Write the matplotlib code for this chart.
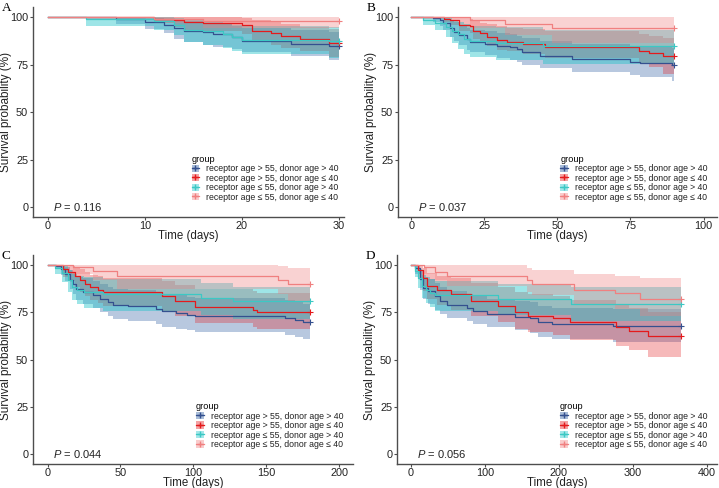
import matplotlib
matplotlib.use("Agg")
import matplotlib.pyplot as plt
from matplotlib.patches import Patch
from matplotlib.lines import Line2D

plt.rcParams["font.family"] = ["Liberation Sans", "DejaVu Sans"]
plt.rcParams["mathtext.fontset"] = "custom"
plt.rcParams["mathtext.it"] = "Liberation Sans:italic"
plt.rcParams["mathtext.rm"] = "Liberation Sans"

groups = ["receptor age > 55, donor age > 40",
          "receptor age > 55, donor age \u2264 40",
          "receptor age \u2264 55, donor age > 40",
          "receptor age \u2264 55, donor age \u2264 40"]
line_colors = ["#34508F", "#E41A1C", "#3CC8C4", "#F08080"]
fill_colors = ["#2A5A9E", "#E41A1C", "#19C3C8", "#F08080"]
fill_alpha = [0.33, 0.3, 0.42, 0.35]

# ---- panel A (30 days) ----
a_blue_t = [0, 7, 10, 12, 13, 14, 16, 17, 19, 20, 25, 29]
a_blue_s = [100, 99.3, 97.4, 95.8, 94.3, 93.0, 92.2, 91.2, 89.6, 87.4, 86.0, 84.6]
a_blue_lo = [100, 96.5, 93.7, 91.6, 88.8, 86.8, 85.5, 84.5, 83.5, 81.5, 79.6, 77.5]
a_blue_hi = [100, 100, 99.8, 99.2, 98.5, 97.8, 97.2, 96.5, 95.5, 94.3, 93.5, 92.3]
a_red_t = [0, 11, 13, 14, 16, 20, 21, 23, 24, 26, 29]
a_red_s = [100, 99.3, 98.5, 97.3, 96.8, 95.8, 93.0, 91.6, 90.2, 88.4, 86.6]
a_red_lo = [100, 97.0, 95.0, 93.5, 92.5, 91.0, 87.5, 85.5, 84.0, 82.0, 79.3]
a_red_hi = [100, 100, 100, 100, 100, 99.8, 98.5, 97.5, 96.5, 95.0, 93.8]
a_cyan_t = [0, 4, 11, 13, 14, 16, 18, 19, 20, 29]
a_cyan_s = [100, 99.0, 97.8, 96.0, 93.5, 92.5, 91.2, 89.5, 88.2, 87.6]
a_cyan_lo = [100, 95.5, 93.5, 90.5, 86.8, 85.5, 84.0, 82.0, 80.5, 78.5]
a_cyan_hi = [100, 100, 100, 99.5, 98.5, 98.0, 97.0, 96.0, 95.5, 95.0]
a_pink_t = [0, 11, 16]
a_pink_s = [100, 99.1, 98.2]
a_pink_lo = [100, 96.8, 94.5]
a_pink_hi = [100, 100, 100]

# ---- panel B (90 days) ----
b_blue_t = [0, 7.6, 10, 11, 13.3, 14.5, 16.2, 19, 20.2, 25.3, 29.3, 33.9, 36.2, 37.9, 44.1, 54.9, 74.9, 78.3, 89.2]
b_blue_s = [100, 99.4, 98.6, 97.2, 94.2, 92.4, 90.7, 88.4, 87.2, 86.0, 84.9, 84.2, 83.2, 81.9, 79.6, 77.9, 76.6, 75.8, 74.9]
b_blue_lo = [100, 97.5, 95.5, 93.5, 89.8, 87.5, 85.5, 83.0, 81.5, 80.0, 78.5, 77.5, 76.5, 75.0, 73.5, 71.0, 69.5, 68.3, 66.2]
b_blue_hi = [100, 100, 100, 99.8, 98.5, 97.3, 96.0, 94.5, 93.5, 92.5, 91.5, 91.0, 90.3, 89.3, 87.5, 86.0, 85.0, 84.3, 83.6]
b_red_t = [0, 11.1, 13.3, 16.2, 20.2, 21.3, 23.6, 25.9, 29.3, 32.7, 38.4, 45.8, 77.8, 81.2, 86.3]
b_red_s = [100, 99.3, 98.6, 96.0, 95.4, 93.0, 91.6, 89.8, 88.1, 87.2, 86.0, 84.2, 82.4, 81.0, 79.6]
b_red_lo = [100, 97.5, 95.8, 92.5, 91.5, 88.5, 86.8, 84.8, 83.0, 82.0, 80.5, 78.5, 76.0, 74.0, 70.0]
b_red_hi = [100, 100, 100, 99.5, 99.2, 98.0, 97.2, 96.2, 95.2, 94.5, 93.8, 92.5, 91.3, 90.2, 89.0]
b_cyan_t = [0, 4.2, 8, 12, 14, 16, 18, 20, 29, 45]
b_cyan_s = [100, 98.6, 97.2, 95.0, 93.0, 91.0, 88.5, 87.3, 86.5, 84.6]
b_cyan_lo = [100, 96.0, 93.5, 89.5, 86.5, 83.5, 80.5, 79.0, 77.5, 75.5]
b_cyan_hi = [100, 100, 100, 99.5, 98.5, 97.5, 96.2, 95.5, 95.0, 93.5]
b_pink_t = [0, 20, 32, 48]
b_pink_s = [100, 98.3, 96.4, 94.2]
b_pink_lo = [100, 94.5, 90.5, 86.5]
b_pink_hi = [100, 100, 100, 100]

# ---- panel C (180 days) ----
c_blue_t = [0, 6.1, 9.5, 11.8, 15.2, 17.6, 19.8, 24.4, 31.3, 35.8, 41.5, 45.0, 55.2, 74.7, 78.2, 88.4, 95.3, 101.1, 162.8, 169.6, 175.4]
c_blue_s = [100, 99.7, 97.9, 95.3, 92.3, 90.1, 87.5, 86.0, 84.3, 82.2, 80.5, 79.1, 78.4, 77.0, 75.6, 74.9, 73.8, 73.1, 72.1, 70.9, 70.0]
c_blue_lo = [100, 98.5, 95.0, 91.5, 87.5, 84.5, 81.5, 79.5, 77.5, 75.0, 73.0, 71.5, 70.5, 69.0, 67.5, 66.5, 65.5, 64.5, 63.0, 62.0, 61.0]
c_blue_hi = [100, 100, 100, 99.3, 97.5, 96.0, 94.0, 93.0, 91.5, 90.0, 88.5, 87.5, 87.0, 86.0, 84.5, 84.0, 83.0, 82.5, 81.5, 80.5, 79.5]
c_red_t = [0, 10.7, 14.1, 18.7, 22.1, 25.6, 29.0, 34.7, 38.2, 78.2, 87.3, 101.1, 141.1, 143.4]
c_red_s = [100, 97.9, 96.5, 94.4, 92.3, 90.1, 88.3, 87.1, 85.7, 83.6, 80.8, 77.8, 76.1, 75.2]
c_red_lo = [100, 93.5, 91.5, 88.5, 86.0, 83.5, 81.5, 80.0, 78.5, 76.0, 73.0, 69.5, 67.5, 66.0]
c_red_hi = [100, 100, 99.8, 99.0, 97.8, 96.5, 95.0, 94.2, 93.0, 91.5, 89.5, 87.5, 86.3, 85.5]
c_cyan_t = [0, 5, 10, 14, 17, 20, 25, 38, 105, 127]
c_cyan_s = [100, 98.5, 96.0, 92.0, 88.5, 87.0, 85.8, 84.6, 82.9, 81.2]
c_cyan_lo = [100, 95.5, 91.0, 86.0, 81.5, 79.5, 77.5, 76.0, 73.5, 71.5]
c_cyan_hi = [100, 100, 99.5, 97.5, 95.5, 94.5, 93.5, 92.5, 90.5, 88.5]
c_pink_t = [0, 17.6, 31.3, 47.3, 158, 164.8]
c_pink_s = [100, 98.8, 97.1, 94.1, 92.3, 90.1]
c_pink_lo = [100, 95.5, 92.0, 87.5, 84.5, 81.0]
c_pink_hi = [100, 100, 100, 100, 99.5, 98.5]

# ---- panel D (365 days) ----
d_blue_t = [0, 5.4, 12.2, 16.7, 23.4, 32.5, 39.2, 48.3, 75.3, 84.3, 102.4, 140.7, 161, 172.3, 190.3, 273.8]
d_blue_s = [100, 98.6, 92.5, 88.1, 86.4, 83.8, 81.2, 79.1, 77.3, 75.9, 74.2, 72.8, 71.9, 69.8, 69.0, 68.0]
d_blue_lo = [100, 95.5, 87.0, 82.0, 79.5, 76.5, 74.0, 72.0, 70.5, 69.0, 67.5, 65.5, 64.0, 62.0, 61.0, 59.5]
d_blue_hi = [100, 100, 97.5, 94.0, 92.5, 90.5, 88.5, 86.5, 85.0, 84.0, 82.0, 81.0, 80.5, 78.5, 77.5, 77.0]
d_red_t = [0, 10, 16, 21.4, 35.1, 53.4, 80.8, 117.4, 140, 158.4, 192.7, 215.5, 277, 295.4, 320.5]
d_red_s = [100, 97.5, 93.0, 89.0, 86.7, 84.6, 81.2, 78.5, 75.0, 73.3, 72.1, 69.8, 67.2, 65.4, 62.3]
d_red_lo = [100, 93.0, 86.5, 82.0, 79.0, 76.5, 73.0, 70.0, 66.5, 64.5, 63.0, 60.5, 57.5, 55.0, 51.5]
d_red_hi = [100, 100, 98.5, 96.0, 94.5, 93.0, 90.5, 88.5, 86.0, 84.5, 83.5, 81.5, 79.5, 77.5, 75.0]
d_cyan_t = [0, 5, 10, 15, 20, 25, 33, 118, 217]
d_cyan_s = [100, 97.0, 93.0, 89.0, 87.0, 85.5, 84.2, 82.0, 79.4]
d_cyan_lo = [100, 93.5, 88.0, 82.5, 80.0, 78.0, 76.0, 73.5, 70.5]
d_cyan_hi = [100, 100, 98.0, 95.0, 93.5, 92.5, 91.5, 90.0, 88.5]
d_pink_t = [0, 17, 32, 48, 157, 164, 220, 276, 310]
d_pink_s = [100, 98.8, 96.5, 94.3, 92.3, 90.3, 86.7, 85.5, 82.1]
d_pink_lo = [100, 95.5, 92.0, 89.0, 86.0, 84.0, 79.5, 77.0, 73.0]
d_pink_hi = [100, 100, 100, 100, 98.5, 97.5, 95.5, 94.5, 93.0]

panels = [
    ("A", 30, [0, 10, 20, 30], (-1.5, 30.5), "0.116",
     [(a_blue_t, a_blue_s, a_blue_lo, a_blue_hi), (a_red_t, a_red_s, a_red_lo, a_red_hi),
      (a_cyan_t, a_cyan_s, a_cyan_lo, a_cyan_hi), (a_pink_t, a_pink_s, a_pink_lo, a_pink_hi)]),
    ("B", 90, [0, 25, 50, 75, 100], (-4.5, 104.6), "0.037",
     [(b_blue_t, b_blue_s, b_blue_lo, b_blue_hi), (b_red_t, b_red_s, b_red_lo, b_red_hi),
      (b_cyan_t, b_cyan_s, b_cyan_lo, b_cyan_hi), (b_pink_t, b_pink_s, b_pink_lo, b_pink_hi)]),
    ("C", 180, [0, 50, 100, 150, 200], (-10, 209.5), "0.044",
     [(c_blue_t, c_blue_s, c_blue_lo, c_blue_hi), (c_red_t, c_red_s, c_red_lo, c_red_hi),
      (c_cyan_t, c_cyan_s, c_cyan_lo, c_cyan_hi), (c_pink_t, c_pink_s, c_pink_lo, c_pink_hi)]),
    ("D", 365, [0, 100, 200, 300, 400], (-19, 414), "0.056",
     [(d_blue_t, d_blue_s, d_blue_lo, d_blue_hi), (d_red_t, d_red_s, d_red_lo, d_red_hi),
      (d_cyan_t, d_cyan_s, d_cyan_lo, d_cyan_hi), (d_pink_t, d_pink_s, d_pink_lo, d_pink_hi)]),
]

W, H = 719, 488
rects = [(33, 7, 311, 210), (398, 7, 319, 210), (33, 255, 320, 209), (397, 255, 320, 209)]
axis_col = "#4d4d4d"
text_col = "#222222"

fig = plt.figure(figsize=(W / 100, H / 100), dpi=100)

for (letter, tend, xticks, xlim, pval, curves), (px, py, pw, ph) in zip(panels, rects):
    ax = fig.add_axes([px / W, 1 - (py + ph) / H, pw / W, ph / H])
    for (t, s, lo, hi), c, a in zip(curves, fill_colors, fill_alpha):
        tt = t + [tend]
        ax.fill_between(tt, lo + [lo[-1]], hi + [hi[-1]], step="post",
                        color=c, alpha=a, linewidth=0)
    for (t, s, lo, hi), c in zip(curves, line_colors):
        tt = t + [tend]
        ax.step(tt, s + [s[-1]], where="post", color=c, lw=0.9)
        ax.plot(tend, s[-1], marker="+", color=c, ms=4, mew=0.8)

    ax.set_xlim(*xlim)
    ax.set_ylim(-5.2, 105.4)
    ax.set_xticks(xticks)
    ax.set_yticks([0, 25, 50, 75, 100])
    for sp in ["top", "right"]:
        ax.spines[sp].set_visible(False)
    for sp in ["left", "bottom"]:
        ax.spines[sp].set_color(axis_col)
        ax.spines[sp].set_linewidth(1.0)
    ax.tick_params(colors=axis_col, labelcolor=text_col, labelsize=7.8,
                   length=2, width=0.8, pad=1.5)
    ax.tick_params(axis="x", pad=0.6)
    ax.set_xlabel("Time (days)", fontsize=8.3, color=text_col)
    ax.set_ylabel("Survival probability (%)", fontsize=8.5, color=text_col)
    ax.xaxis.set_label_coords(0.5, -12.8 / ph)
    ax.yaxis.set_label_coords(-21 / pw, 0.5)

    ax.text(0.063, 0, "$P$ = " + pval, transform=ax.get_yaxis_transform(),
            fontsize=8, va="center", ha="left", color=text_col)

    handles = [(Patch(facecolor=fc, alpha=0.4, linewidth=0),
                Line2D([], [], color=lc, marker="+", ms=4, lw=0.9))
               for fc, lc in zip(fill_colors, line_colors)]
    leg = ax.legend(handles, groups, title="group", loc="upper left",
                    bbox_to_anchor=(0.49, 0.325), frameon=False, fontsize=6.3,
                    title_fontsize=6.6, handlelength=0.9, handleheight=0.9,
                    handletextpad=0.8, labelspacing=0.05, borderpad=0.2,
                    alignment="left")
    for txt in leg.get_texts():
        txt.set_color(text_col)

    fig.text((px - 31) / W, 1 - (py - 5) / H, letter, family="Liberation Serif",
             fontsize=9.5, va="top", ha="left")

fig.savefig("out.png", dpi=100)
